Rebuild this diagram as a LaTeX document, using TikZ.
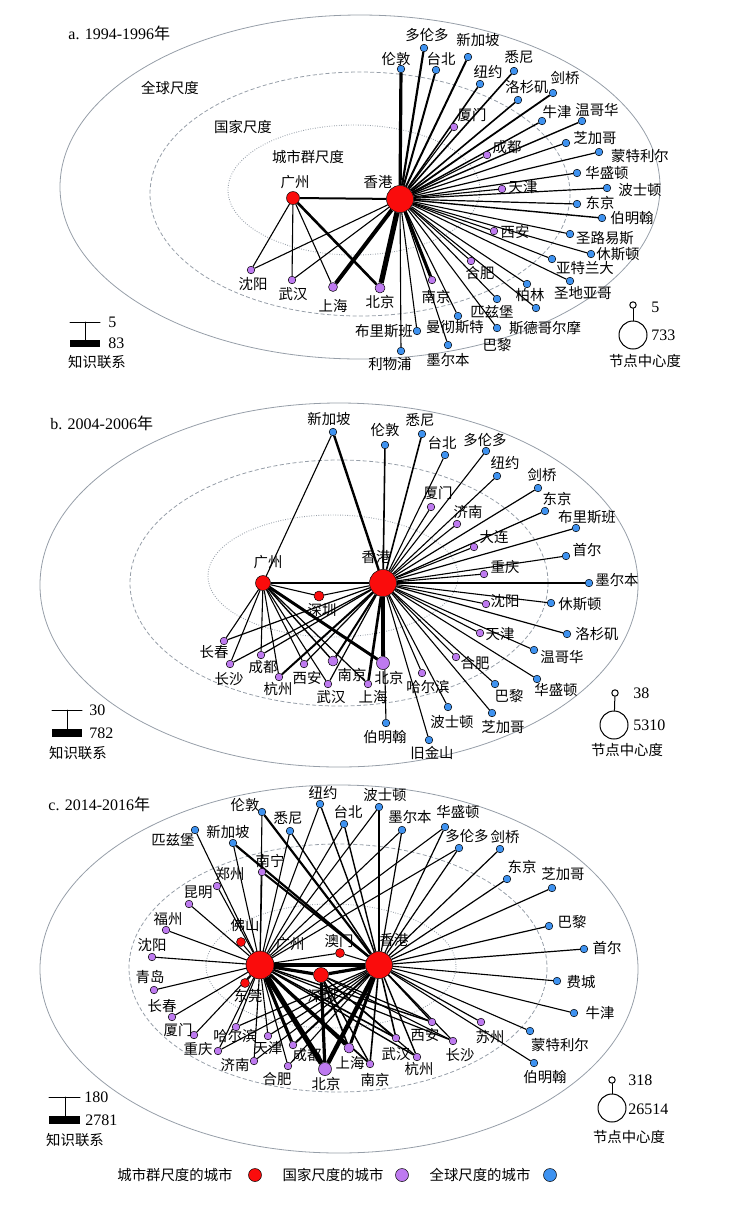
\documentclass[tikz,border=0pt]{standalone}
\usepackage{fontspec}
\setmainfont{Liberation Serif}
\newfontfamily\cjk{Noto Sans CJK SC}
\definecolor{cityred}{RGB}{250,12,12}
\definecolor{natpurple}{RGB}{190,122,240}
\definecolor{globblue}{RGB}{62,146,240}
\definecolor{ringgray}{RGB}{150,158,168}
\pgfdeclarelayer{bg}
\pgfsetlayers{bg,main}

\begin{document}
\begin{tikzpicture}[line cap=round,line join=round,x=0.5pt,y=-0.5pt,
	outring/.style={draw=ringgray,line width=0.4pt},
	midring/.style={draw=ringgray,line width=0.4pt,dash pattern=on 2pt off 1.2pt},
	inring/.style={draw=ringgray,line width=0.45pt,dash pattern=on 0.4pt off 0.8pt},
	gc/.style={circle,draw=black,line width=0.25pt,inner sep=0pt,minimum size=3.8pt,fill=globblue},
	nc/.style={gc,fill=natpurple},
	rc/.style={gc,fill=cityred},
	lab/.style={font=\cjk\fontsize{7.2}{8}\selectfont,inner sep=0pt},
	num/.style={font=\fontsize{8}{9}\selectfont,inner sep=0pt,anchor=west},
	ttl/.style={font=\fontsize{8}{9}\selectfont,inner sep=0pt,anchor=west},
	hollow/.style={circle,draw=black,line width=0.5pt,inner sep=0pt,fill=white}]
\useasboundingbox (0,0) rectangle (755,1212);

% ---------------- a. 1994-1996
\node[ttl] (aT) at (68,33) {a. 1994-1996{\cjk 年}};
\node[lab] (aS1) at (170,88) {全球尺度};
\node[lab] (aS2) at (243,127) {国家尺度};
\node[lab] (aS3) at (308,157) {城市群尺度};

\node[rc,minimum size=6.5pt] (aGZ) at (293,198) {};
\node[rc,minimum size=13.5pt] (aHK) at (400,199) {};
\node[nc] (aSY) at (251,270) {};
\node[nc] (aWH) at (292,280) {};
\node[nc,minimum size=4.5pt] (aSH) at (333,287) {};
\node[nc,minimum size=5pt] (aBJ) at (380,288) {};
\node[nc] (aNJ) at (432,280) {};
\node[nc] (aHF) at (471,261) {};
\node[nc] (aXA) at (494,231) {};
\node[nc] (aTJ) at (502,189) {};
\node[nc] (aCD) at (487,155) {};
\node[nc] (aXM) at (454,127) {};
\node[gc] (aLD) at (401,69) {};
\node[gc] (aDLD) at (424,48) {};
\node[gc] (aTB) at (436,70) {};
\node[gc] (aXJP) at (468,57) {};
\node[gc] (aNY) at (480,84) {};
\node[gc] (aXN) at (514,71) {};
\node[gc] (aLSJ) at (518,100) {};
\node[gc] (aJQ) at (553,93) {};
\node[gc] (aNZ) at (542,121) {};
\node[gc] (aWGH) at (582,121) {};
\node[gc] (aZJG) at (566,143) {};
\node[gc] (aMTL) at (599,152) {};
\node[gc] (aHSD) at (577,173) {};
\node[gc] (aBSD) at (607,188) {};
\node[gc] (aDJ) at (577,204) {};
\node[gc] (aBMH) at (602,218) {};
\node[gc] (aSLYS) at (570,234) {};
\node[gc] (aXSD) at (591,254) {};
\node[gc] (aYTLD) at (552,259) {};
\node[gc] (aSDYG) at (570,281) {};
\node[gc] (aBL) at (527,284) {};
\node[gc] (aPZB) at (497,299) {};
\node[gc] (aSDGEM) at (536,308) {};
\node[gc] (aBLi) at (497,328) {};
\node[gc] (aMCST) at (458,316) {};
\node[gc] (aMEB) at (448,345) {};
\node[gc] (aBLSB) at (417,331) {};
\node[gc] (aLWP) at (401,351) {};

\node[lab] (aGZl) at (295,182) {广州};
\node[lab] (aHKl) at (378,182) {香港};
\node[lab] (aSYl) at (253,284) {沈阳};
\node[lab] (aWHl) at (293,294) {武汉};
\node[lab] (aSHl) at (333,306) {上海};
\node[lab] (aBJl) at (380,302) {北京};
\node[lab] (aNJl) at (436,297) {南京};
\node[lab] (aHFl) at (480,273) {合肥};
\node[lab] (aXAl) at (515,232) {西安};
\node[lab] (aTJl) at (523,187) {天津};
\node[lab] (aCDl) at (507,147) {成都};
\node[lab] (aXMl) at (472,115) {厦门};
\node[lab] (aLDl) at (396,59) {伦敦};
\node[lab] (aDLDl) at (427,35) {多伦多};
\node[lab] (aTBl) at (441,59) {台北};
\node[lab] (aXJPl) at (478,40) {新加坡};
\node[lab] (aNYl) at (488,72) {纽约};
\node[lab] (aXNl) at (519,57) {悉尼};
\node[lab] (aLSJl) at (527,87) {洛杉矶};
\node[lab] (aJQl) at (565,78) {剑桥};
\node[lab] (aNZl) at (557,112) {牛津};
\node[lab] (aWGHl) at (597,110) {温哥华};
\node[lab] (aZJGl) at (595,138) {芝加哥};
\node[lab] (aMTLl) at (640,156) {蒙特利尔};
\node[lab] (aHSDl) at (607,173) {华盛顿};
\node[lab] (aBSDl) at (640,190) {波士顿};
\node[lab] (aDJl) at (600,203) {东京};
\node[lab] (aBMHl) at (632,218) {伯明翰};
\node[lab] (aSLYSl) at (605,238) {圣路易斯};
\node[lab] (aXSDl) at (618,254) {休斯顿};
\node[lab] (aYTLDl) at (585,268) {亚特兰大};
\node[lab] (aSDYGl) at (583,293) {圣地亚哥};
\node[lab] (aBLl) at (530,295) {柏林};
\node[lab] (aPZBl) at (492,312) {匹兹堡};
\node[lab] (aSDGEMl) at (545,328) {斯德哥尔摩};
\node[lab] (aBLil) at (497,345) {巴黎};
\node[lab] (aMCSTl) at (455,327) {曼彻斯特};
\node[lab] (aMEBl) at (448,360) {墨尔本};
\node[lab] (aBLSBl) at (384,331) {布里斯班};
\node[lab] (aLWPl) at (390,364) {利物浦};

\begin{pgfonlayer}{bg}
	\draw[outring] (360,187) ellipse [x radius=300, y radius=172];
	\draw[midring] (360,194) ellipse [x radius=210, y radius=122];
	\draw[inring] (354,190) ellipse [x radius=126, y radius=65];
	\foreach \t/\w in {HK/1,SY/0.55,WH/0.55,SH/0.55,BJ/1.3}
		\draw[line width=\w pt] (aGZ) -- (a\t);
	\foreach \t/\w in {BJ/2.6,SH/2,NJ/1.6,SY/0.55,WH/0.55,HF/0.55,XA/0.55,TJ/0.55,CD/0.55,XM/0.55,
		LD/1.6,DLD/1.1,TB/1,XJP/1,NY/0.8,XN/0.8,LSJ/0.8,JQ/0.9,NZ/0.7,WGH/0.7,ZJG/0.6,MTL/0.6,HSD/0.6,
		BSD/0.6,DJ/0.6,BMH/0.7,SLYS/0.55,XSD/0.55,YTLD/0.55,SDYG/0.55,BL/0.55,PZB/0.55,SDGEM/0.55,
		BLi/0.55,MCST/0.55,MEB/0.55,BLSB/0.55,LWP/0.55}
		\draw[line width=\w pt] (aHK) -- (a\t);
\end{pgfonlayer}

\draw[line width=0.5pt] (70,322) coordinate (aK1) -- (100,322);
\draw[line width=0.5pt] (85,322) -- (85,343) coordinate (aK2);
\fill (70,340) rectangle (100,347);
\node[num] (aK5) at (108,322) {5};
\node[num] (aK83) at (108,343) {83};
\node[lab] (aKl) at (97,362) {知识联系};
\node[hollow,minimum size=3.2pt] (aCs) at (633,305) {};
\node[hollow,minimum size=14pt] (aCb) at (633,335) {};
\draw[line width=0.5pt] (aCs) -- (aCb);
\node[num] (aC5) at (651,307) {5};
\node[num] (aC733) at (651,335) {733};
\node[lab] (aCl) at (645,361) {节点中心度};

% ---------------- b. 2004-2006
\node[ttl] (bT) at (50,423) {b. 2004-2006{\cjk 年}};

\node[rc,minimum size=7.5pt] (bGZ) at (263,583) {};
\node[rc,minimum size=13.5pt] (bHK) at (383,583) {};
\node[rc,minimum size=5pt] (bSZ) at (319,596) {};
\node[gc] (bXJP) at (333,432) {};
\node[nc] (bCC) at (224,641) {};
\node[nc] (bCS) at (230,664) {};
\node[nc] (bCD) at (261,655) {};
\node[nc] (bHZ) at (279,677) {};
\node[nc] (bXA) at (304,664) {};
\node[nc] (bWH) at (328,684) {};
\node[nc,minimum size=5pt] (bNJ) at (333,661) {};
\node[nc] (bSH) at (368,684) {};
\node[nc,minimum size=6.5pt] (bBJ) at (383,663) {};
\node[nc] (bHEB) at (422,673) {};
\node[nc] (bHF) at (456,657) {};
\node[nc] (bTJ) at (480,633) {};
\node[nc] (bSY) at (486,604) {};
\node[nc] (bCQ) at (484,574) {};
\node[nc] (bDL) at (474,547) {};
\node[nc] (bJN) at (457,524) {};
\node[nc] (bXM) at (431,507) {};
\node[gc] (bBMH) at (386,723) {};
\node[gc] (bJJS) at (429,740) {};
\node[gc] (bBSD) at (448,707) {};
\node[gc] (bZJG) at (492,713) {};
\node[gc] (bBLi) at (495,684) {};
\node[gc] (bHSD) at (537,679) {};
\node[gc] (bWGH) at (534,650) {};
\node[gc] (bLSJ) at (567,634) {};
\node[gc] (bXSD) at (551,603) {};
\node[gc] (bMEB) at (589,583) {};
\node[gc] (bSE) at (566,556) {};
\node[gc] (bBLSB) at (576,528) {};
\node[gc] (bDJ) at (545,511) {};
\node[gc] (bJQ) at (538,488) {};
\node[gc] (bNY) at (497,476) {};
\node[gc] (bDLD) at (486,451) {};
\node[gc] (bTB) at (445,455) {};
\node[gc] (bXN) at (422,434) {};
\node[gc] (bLD) at (385,445) {};

\node[lab] (bGZl) at (268,562) {广州};
\node[lab] (bHKl) at (376,557) {香港};
\node[lab] (bSZl) at (322,610) {深圳};
\node[lab] (bXJPl) at (329,419) {新加坡};
\node[lab] (bCCl) at (214,652) {长春};
\node[lab] (bCSl) at (229,679) {长沙};
\node[lab] (bCDl) at (263,667) {成都};
\node[lab] (bHZl) at (278,689) {杭州};
\node[lab] (bXAl) at (307,678) {西安};
\node[lab] (bWHl) at (331,697) {武汉};
\node[lab] (bNJl) at (352,675) {南京};
\node[lab] (bSHl) at (373,697) {上海};
\node[lab] (bBJl) at (389,678) {北京};
\node[lab] (bHEBl) at (428,687) {哈尔滨};
\node[lab] (bHFl) at (475,663) {合肥};
\node[lab] (bTJl) at (500,634) {天津};
\node[lab] (bSYl) at (505,601) {沈阳};
\node[lab] (bCQl) at (505,567) {重庆};
\node[lab] (bDLl) at (494,537) {大连};
\node[lab] (bJNl) at (468,512) {济南};
\node[lab] (bXMl) at (438,493) {厦门};
\node[lab] (bBMHl) at (385,737) {伯明翰};
\node[lab] (bJJSl) at (432,753) {旧金山};
\node[lab] (bBSDl) at (452,722) {波士顿};
\node[lab] (bZJGl) at (503,727) {芝加哥};
\node[lab] (bBLil) at (509,696) {巴黎};
\node[lab] (bHSDl) at (556,690) {华盛顿};
\node[lab] (bWGHl) at (562,657) {温哥华};
\node[lab] (bLSJl) at (597,634) {洛杉矶};
\node[lab] (bXSDl) at (580,604) {休斯顿};
\node[lab] (bMEBl) at (617,580) {墨尔本};
\node[lab] (bSEl) at (587,550) {首尔};
\node[lab] (bBLSBl) at (587,517) {布里斯班};
\node[lab] (bDJl) at (557,499) {东京};
\node[lab] (bJQl) at (542,475) {剑桥};
\node[lab] (bNYl) at (505,463) {纽约};
\node[lab] (bDLDl) at (485,440) {多伦多};
\node[lab] (bTBl) at (442,443) {台北};
\node[lab] (bXNl) at (420,420) {悉尼};
\node[lab] (bLDl) at (385,430) {伦敦};

\begin{pgfonlayer}{bg}
	\draw[outring] (339,585) ellipse [x radius=299, y radius=182];
	\draw[midring] (339,583) ellipse [x radius=209, y radius=123];
	\draw[inring] (333,576) ellipse [x radius=125, y radius=61];
	\foreach \t/\w in {XJP/0.55,HK/1.2,SZ/0.55,CC/0.55,CS/0.55,CD/0.55,HZ/0.55,XA/0.55,WH/0.55,NJ/0.7,SH/0.6,BJ/1.5}
		\draw[line width=\w pt] (bGZ) -- (b\t);
	\foreach \t/\w in {XJP/1.2,SZ/0.55,CC/0.6,CS/0.6,CD/0.6,HZ/1,XA/0.6,WH/0.6,NJ/1,SH/1.3,BJ/2.3,
		HEB/0.55,HF/0.55,TJ/0.55,SY/0.55,CQ/0.55,DL/0.55,JN/0.55,XM/0.55,
		BMH/0.55,JJS/0.55,BSD/0.55,ZJG/0.55,BLi/0.55,HSD/0.55,WGH/0.55,LSJ/0.6,XSD/0.55,MEB/0.6,SE/0.55,
		BLSB/0.6,DJ/0.6,JQ/0.6,NY/0.55,DLD/0.55,TB/0.55,XN/0.8,LD/0.8}
		\draw[line width=\w pt] (bHK) -- (b\t);
\end{pgfonlayer}

\draw[line width=0.5pt] (52,710) coordinate (bK1) -- (82,710);
\draw[line width=0.5pt] (67,710) -- (67,733) coordinate (bK2);
\fill (52,729) rectangle (82,737);
\node[num] (bK30) at (89,710) {30};
\node[num] (bK782) at (89,733) {782};
\node[lab] (bKl) at (78,753) {知识联系};
\node[hollow,minimum size=3.2pt] (bCs) at (615,693) {};
\node[hollow,minimum size=14pt] (bCb) at (614,725) {};
\draw[line width=0.5pt] (bCs) -- (bCb);
\node[num] (bC38) at (633,693) {38};
\node[num] (bC5310) at (633,725) {5310};
\node[lab] (bCl) at (627,750) {节点中心度};

% ---------------- c. 2014-2016
\node[ttl] (cT) at (48,804) {c. 2014-2016{\cjk 年}};

\node[rc,minimum size=14pt] (cGZ) at (260,965) {};
\node[rc,minimum size=13.5pt] (cHK) at (379,965) {};
\node[rc,minimum size=7.5pt] (cSZ) at (321,975) {};
\node[rc,minimum size=4.5pt] (cAM) at (340,953) {};
\node[rc,minimum size=4.5pt] (cFS) at (241,942) {};
\node[rc,minimum size=4.5pt] (cDG) at (245,983) {};
\node[nc] (cNN) at (262,872) {};
\node[nc] (cZZ) at (217,886) {};
\node[nc] (cKM) at (189,904) {};
\node[nc] (cFZ) at (166,930) {};
\node[nc] (cSY) at (152,957) {};
\node[nc] (cQD) at (154,990) {};
\node[nc] (cCC) at (172,1017) {};
\node[nc] (cXM) at (194,1035) {};
\node[nc] (cCQ) at (218,1051) {};
\node[nc] (cHEB) at (236,1027) {};
\node[nc] (cJN) at (254,1061) {};
\node[nc] (cTJ) at (268,1036) {};
\node[nc] (cHF) at (288,1066) {};
\node[nc] (cCD) at (293,1045) {};
\node[nc,minimum size=6.5pt] (cBJ) at (325,1069) {};
\node[nc,minimum size=5pt] (cSH) at (349,1048) {};
\node[nc] (cNJ) at (370,1064) {};
\node[nc] (cWH) at (396,1038) {};
\node[nc] (cHZ) at (417,1057) {};
\node[nc] (cXA) at (432,1022) {};
\node[nc] (cCS) at (453,1041) {};
\node[nc] (cSUZ) at (481,1022) {};
\node[gc] (cPZB) at (195,830) {};
\node[gc] (cXJP) at (233,843) {};
\node[gc] (cLD) at (262,812) {};
\node[gc] (cXN) at (290,831) {};
\node[gc] (cNY) at (320,804) {};
\node[gc] (cTB) at (344,824) {};
\node[gc] (cBSD) at (379,807) {};
\node[gc] (cMEB) at (402,830) {};
\node[gc] (cHSD) at (445,827) {};
\node[gc] (cDLD) at (459,848) {};
\node[gc] (cJQ) at (500,849) {};
\node[gc] (cDJ) at (507,879) {};
\node[gc] (cZJG) at (552,888) {};
\node[gc] (cBLi) at (549,926) {};
\node[gc] (cSE) at (584,949) {};
\node[gc] (cFC) at (557,981) {};
\node[gc] (cNZ) at (574,1013) {};
\node[gc] (cMTL) at (530,1031) {};
\node[gc] (cBMH) at (534,1063) {};

\node[lab] (cGZl) at (290,944) {广州};
\node[lab] (cHKl) at (394,940) {香港};
\node[lab] (cSZl) at (322,996) {深圳};
\node[lab] (cAMl) at (339,941) {澳门};
\node[lab] (cFSl) at (245,925) {佛山};
\node[lab] (cDGl) at (248,996) {东莞};
\node[lab] (cNNl) at (270,861) {南宁};
\node[lab] (cZZl) at (230,874) {郑州};
\node[lab] (cKMl) at (198,892) {昆明};
\node[lab] (cFZl) at (168,919) {福州};
\node[lab] (cSYl) at (152,945) {沈阳};
\node[lab] (cQDl) at (150,977) {青岛};
\node[lab] (cCCl) at (162,1006) {长春};
\node[lab] (cXMl) at (178,1030) {厦门};
\node[lab] (cCQl) at (198,1049) {重庆};
\node[lab] (cHEBl) at (235,1036) {哈尔滨};
\node[lab] (cJNl) at (235,1065) {济南};
\node[lab] (cTJl) at (268,1048) {天津};
\node[lab] (cHFl) at (277,1079) {合肥};
\node[lab] (cCDl) at (307,1055) {成都};
\node[lab] (cBJl) at (326,1084) {北京};
\node[lab] (cSHl) at (350,1063) {上海};
\node[lab] (cNJl) at (375,1080) {南京};
\node[lab] (cWHl) at (396,1054) {武汉};
\node[lab] (cHZl) at (419,1069) {杭州};
\node[lab] (cXAl) at (425,1035) {西安};
\node[lab] (cCSl) at (460,1055) {长沙};
\node[lab] (cSUZl) at (490,1037) {苏州};
\node[lab] (cPZBl) at (173,840) {匹兹堡};
\node[lab] (cXJPl) at (228,832) {新加坡};
\node[lab] (cLDl) at (245,805) {伦敦};
\node[lab] (cXNl) at (288,818) {悉尼};
\node[lab] (cNYl) at (323,793) {纽约};
\node[lab] (cTBl) at (348,812) {台北};
\node[lab] (cBSDl) at (385,795) {波士顿};
\node[lab] (cMEBl) at (410,817) {墨尔本};
\node[lab] (cHSDl) at (458,812) {华盛顿};
\node[lab] (cDLDl) at (467,836) {多伦多};
\node[lab] (cJQl) at (505,837) {剑桥};
\node[lab] (cDJl) at (522,867) {东京};
\node[lab] (cZJGl) at (563,874) {芝加哥};
\node[lab] (cBLil) at (572,922) {巴黎};
\node[lab] (cSEl) at (607,948) {首尔};
\node[lab] (cFCl) at (581,982) {费城};
\node[lab] (cNZl) at (600,1013) {牛津};
\node[lab] (cMTLl) at (560,1045) {蒙特利尔};
\node[lab] (cBMHl) at (545,1077) {伯明翰};

\begin{pgfonlayer}{bg}
	\draw[outring] (339,969) ellipse [x radius=299, y radius=184];
	\draw[midring] (338,968) ellipse [x radius=209, y radius=124];
	\draw[inring] (331,966) ellipse [x radius=125, y radius=62];
	\foreach \t/\w in {HK/2,SZ/1.6,AM/0.55,FS/0.55,DG/0.55,
		NN/0.55,ZZ/0.55,KM/0.55,FZ/0.55,SY/0.55,QD/0.55,CC/0.55,XM/0.55,CQ/0.55,HEB/0.55,JN/0.55,TJ/0.55,
		HF/0.55,CD/1.6,BJ/2.6,SH/1.6,NJ/0.9,WH/0.8,HZ/0.7,XA/0.7,CS/0.6,
		PZB/0.55,XJP/0.55,LD/0.55,XN/0.55,NY/0.55,TB/0.55,BSD/0.55,MEB/0.55,HSD/0.55,DLD/0.55}
		\draw[line width=\w pt] (cGZ) -- (c\t);
	\foreach \t/\w in {SZ/1.6,AM/0.55,NN/1,CD/1,BJ/2.2,SH/1.5,NJ/0.8,WH/0.8,HZ/0.7,XA/0.7,CS/0.6,SUZ/0.6,
		TJ/0.6,HEB/0.6,JN/0.55,CQ/0.55,HF/0.55,
		XJP/1.1,LD/1.1,XN/0.7,NY/0.7,TB/0.7,BSD/0.7,MEB/0.6,HSD/0.6,DLD/0.6,JQ/0.6,DJ/0.6,ZJG/0.6,
		BLi/0.6,SE/0.6,FC/0.55,NZ/0.55,MTL/0.55,BMH/0.55}
		\draw[line width=\w pt] (cHK) -- (c\t);
	\foreach \t/\w in {BJ/1.6,SH/0.8,NJ/0.7,XA/0.6,WH/0.6,HZ/0.6,CS/0.55}
		\draw[line width=\w pt] (cSZ) -- (c\t);
\end{pgfonlayer}

\draw[line width=0.5pt] (49,1097) coordinate (cK1) -- (80,1097);
\draw[line width=0.5pt] (65,1097) -- (65,1120) coordinate (cK2);
\fill (49,1116) rectangle (80,1124);
\node[num] (cK180) at (84,1097) {180};
\node[num] (cK2781) at (85,1120) {2781};
\node[lab] (cKl) at (75,1140) {知识联系};
\node[hollow,minimum size=3.2pt] (cCs) at (612,1080) {};
\node[hollow,minimum size=14pt] (cCb) at (612,1108) {};
\draw[line width=0.5pt] (cCs) -- (cCb);
\node[num] (cC318) at (628,1080) {318};
\node[num] (cC26514) at (628,1109) {26514};
\node[lab] (cCl) at (629,1137) {节点中心度};

% ---------------- legend
\node[lab] (kR) at (175,1175) {城市群尺度的城市};
\node[rc,minimum size=6.5pt] (kRd) at (255,1175) {};
\node[lab] (kN) at (333,1175) {国家尺度的城市};
\node[nc,minimum size=6.5pt] (kNd) at (402,1175) {};
\node[lab] (kG) at (480,1175) {全球尺度的城市};
\node[gc,minimum size=6.5pt] (kGd) at (550,1175) {};
\end{tikzpicture}
\end{document}
